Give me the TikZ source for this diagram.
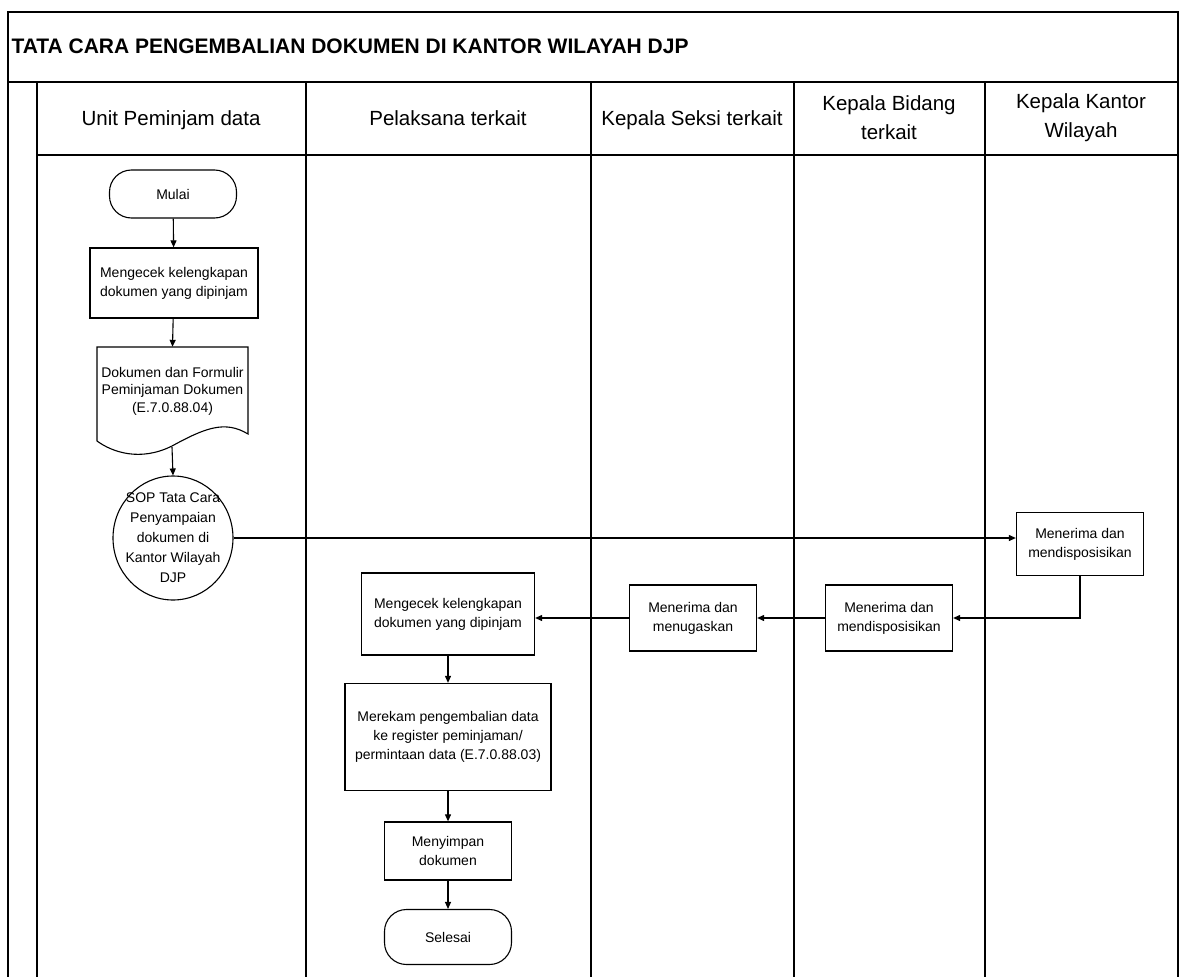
\documentclass[tikz,border=0pt]{standalone}
\usepackage{fontspec}
\setmainfont{Liberation Sans}
\usetikzlibrary{arrows.meta,shapes.geometric,calc}
\begin{document}
\begin{tikzpicture}[x=1pt,y=-1pt,
  frame/.style={line width=1.3pt},
  proc/.style={draw,line width=1.3pt,rectangle,align=center,font=\fontsize{14}{19}\selectfont,inner sep=2pt},
  term/.style={draw,line width=1.1pt,rectangle,rounded corners=22pt,align=center,font=\fontsize{14}{19}\selectfont},
  hdr/.style={align=center,font=\fontsize{20.5}{29}\selectfont},
  arr/.style={line width=1.1pt,-{Triangle[length=7pt,width=6pt]}}]
\path[fill=white,use as bounding box] (0,0) rectangle (1181,977);
% frame
\draw[frame] (8,977) -- (8,12) -- (1178,12) -- (1178,977);
\draw[frame] (8,82) -- (1178,82);
\draw[frame] (37,82) -- (37,977);
\draw[frame] (37,155) -- (1178,155);
\foreach \x in {306,591,794,985} \draw[frame] (\x,82) -- (\x,977);
% title and headers
\node[anchor=west,font=\bfseries\fontsize{21}{24}\selectfont] (title) at (8,46) {TATA CARA PENGEMBALIAN DOKUMEN DI KANTOR WILAYAH DJP};
\node[hdr,anchor=base] (h1) at (171,125) {Unit Peminjam data};
\node[hdr,anchor=base] (h2) at (448,125) {Pelaksana terkait};
\node[hdr,anchor=base] (h3) at (692,125) {Kepala Seksi terkait};
\node[hdr] (h4) at (889,118) {Kepala Bidang\\terkait};
\node[hdr] (h5) at (1081,118) {Kepala Kantor\\Wilayah};
% nodes
\node[term,minimum width=127pt,minimum height=48pt] (mulai) at (173,194) {Mulai};
\node[proc,minimum width=168pt,minimum height=70pt] (chk1) at (174,283) {Mengecek kelengkapan\\dokumen yang dipinjam};
\node[align=center,font=\fontsize{14}{17.5}\selectfont,minimum width=151pt,minimum height=88pt,inner sep=0pt] (doc) at (172.5,391) {Dokumen dan Formulir\\Peminjaman Dokumen\\(E.7.0.88.04)};
\draw[line width=1.1pt] (97,347) -- (248,347) -- (248,434)
  .. controls (225,420) and (205,428) .. (172,446)
  .. controls (140,462) and (112,452) .. (97,441) -- cycle;
\coordinate (docb) at (172,447);
\node[draw,ellipse,line width=1.1pt,minimum width=120pt,minimum height=124pt,inner sep=0pt] (sop) at (173,538) {};
\node[align=center,font=\fontsize{14}{20}\selectfont,inner sep=0pt] (soptxt) at (sop.center) {SOP Tata Cara\\Penyampaian\\dokumen di\\Kantor Wilayah\\DJP};
\node[proc,minimum width=127pt,minimum height=63pt] (kk) at (1080,544) {Menerima dan\\mendisposisikan};
\node[proc,minimum width=127pt,minimum height=66pt] (kb) at (889,618) {Menerima dan\\mendisposisikan};
\node[proc,minimum width=127pt,minimum height=66pt] (ks) at (693,618) {Menerima dan\\menugaskan};
\node[proc,minimum width=173pt,minimum height=82pt] (chk2) at (448,614) {Mengecek kelengkapan\\dokumen yang dipinjam};
\node[proc,minimum width=206pt,minimum height=107pt] (rek) at (448,737) {Merekam pengembalian data\\ke register peminjaman/\\permintaan data (E.7.0.88.03)};
\node[proc,minimum width=127pt,minimum height=58pt] (sim) at (448,851) {Menyimpan\\dokumen};
\node[term,minimum width=127pt,minimum height=55pt] (sel) at (448,937) {Selesai};
% connectors
\draw[arr] (mulai) -- (chk1);
\draw[arr] (chk1) -- (doc.north);
\draw[arr] (docb) -- (sop.north);
\draw[arr] (sop.east) -- (sop.east -| kk.west);
\draw[arr] (kk.south) |- (kb.east);
\draw[arr] (kb) -- (ks);
\draw[arr] (ks.west) -- (ks.west -| chk2.east);
\draw[arr] (chk2) -- (rek);
\draw[arr] (rek) -- (sim);
\draw[arr] (sim) -- (sel);
\end{tikzpicture}
\end{document}
